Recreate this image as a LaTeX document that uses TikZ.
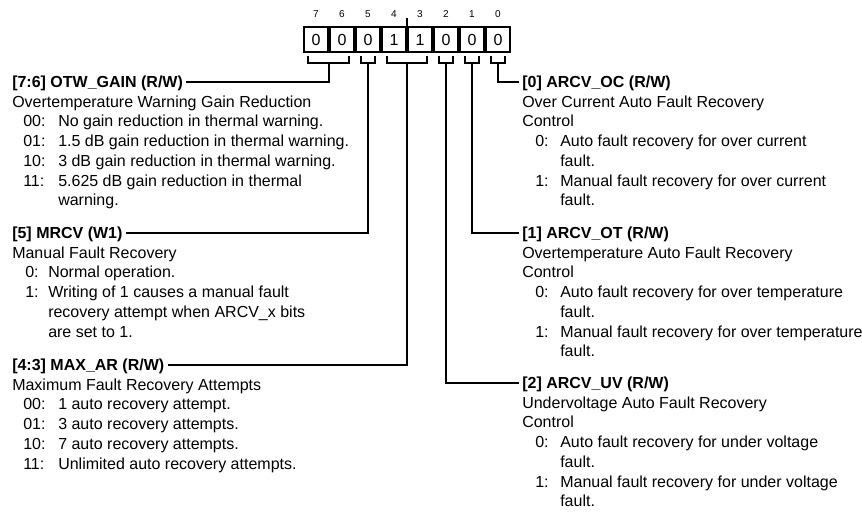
\documentclass[tikz,border=0pt]{standalone}
\usepackage{fontspec}
\setmainfont{Liberation Sans}
\newcommand{\TL}[4]{\node[txt] (#1) at (#2,#3) {#4};}
\newcommand{\HL}[4]{\node[head] (#1) at (#2,#3) {#4};}
\begin{document}
\begin{tikzpicture}[x=0.75pt,y=-0.75pt,
  txt/.style={inner sep=0pt, anchor=base west, font=\fontsize{12}{14}\selectfont},
  head/.style={txt, font=\fontsize{12}{14}\selectfont\bfseries, text height=8.25pt, text depth=0pt},
  cell/.style={draw, line width=1.1pt, minimum width=18.2pt, minimum height=18.75pt, inner sep=0pt, font=\fontsize{12}{14}\selectfont},
  bitnum/.style={inner sep=0pt, font=\fontsize{7.5}{9}\selectfont},
  conn/.style={line width=1.5pt},
  brk/.style={line width=1.5pt}]
\path[use as bounding box, fill=white] (0,0) rectangle (862,515);

% register cells
\foreach \b/\v [count=\i from 0] in {7/0,6/0,5/0,4/1,3/1,2/0,1/0,0/0} {
  \node[cell] (c\b) at (316+26*\i, 39.5) {\v};
  \node[bitnum] (n\b) at (316+26*\i, 14) {\b};
}
\draw[line width=0.8pt] (407,27) -- (407,18);

% brackets
\coordinate (br76) at (329,63);
\coordinate (br5) at (368,63);
\coordinate (br43) at (407,63);
\coordinate (br2) at (446,63);
\coordinate (br1) at (472,63);
\coordinate (br0) at (498,63);
\draw[brk] (308,56) -- (308,63) -- (349,63) -- (349,56);
\draw[brk] (361,56) -- (361,63) -- (375,63) -- (375,56);
\draw[brk] (387,56) -- (387,63) -- (427,63) -- (427,56);
\draw[brk] (439,56) -- (439,63) -- (453,63) -- (453,56);
\draw[brk] (465,56) -- (465,63) -- (479,63) -- (479,56);
\draw[brk] (491,56) -- (491,63) -- (505,63) -- (505,56);

% left column
\HL{h76}{12}{87.5}{[7:6] OTW\_GAIN (R/W)}
\TL{a1}{12}{107.2}{Overtemperature Warning Gain Reduction}
\TL{a2l}{23}{126.9}{00:}\TL{a2}{58}{126.9}{No gain reduction in thermal warning.}
\TL{a3l}{23}{146.6}{01:}\TL{a3}{58}{146.6}{1.5 dB gain reduction in thermal warning.}
\TL{a4l}{23}{166.3}{10:}\TL{a4}{58}{166.3}{3 dB gain reduction in thermal warning.}
\TL{a5l}{23}{186}{11:}\TL{a5}{58}{186}{5.625 dB gain reduction in thermal}
\TL{a6}{58}{205.7}{warning.}

\HL{h5}{12}{238.5}{[5] MRCV (W1)}
\TL{b1}{12}{258.2}{Manual Fault Recovery}
\TL{b2l}{25}{277.9}{0:}\TL{b2}{48}{277.9}{Normal operation.}
\TL{b3l}{25}{297.6}{1:}\TL{b3}{48}{297.6}{Writing of 1 causes a manual fault}
\TL{b4}{48}{317.3}{recovery attempt when ARCV\_x bits}
\TL{b5}{48}{337}{are set to 1.}

\HL{h43}{12}{370.5}{[4:3] MAX\_AR (R/W)}
\TL{d1}{12}{390.2}{Maximum Fault Recovery Attempts}
\TL{d2l}{23}{409.9}{00:}\TL{d2}{58}{409.9}{1 auto recovery attempt.}
\TL{d3l}{23}{429.6}{01:}\TL{d3}{58}{429.6}{3 auto recovery attempts.}
\TL{d4l}{23}{449.3}{10:}\TL{d4}{58}{449.3}{7 auto recovery attempts.}
\TL{d5l}{23}{469}{11:}\TL{d5}{58}{469}{Unlimited auto recovery attempts.}

% right column
\HL{h0}{522}{87.5}{[0] ARCV\_OC (R/W)}
\TL{e1}{522}{107.2}{Over Current Auto Fault Recovery}
\TL{e2}{522}{126.9}{Control}
\TL{e3l}{535}{146.6}{0:}\TL{e3}{560}{146.6}{Auto fault recovery for over current}
\TL{e4}{560}{166.3}{fault.}
\TL{e5l}{535}{186}{1:}\TL{e5}{560}{186}{Manual fault recovery for over current}
\TL{e6}{560}{205.7}{fault.}

\HL{h1}{522}{238.5}{[1] ARCV\_OT (R/W)}
\TL{f1}{522}{258.2}{Overtemperature Auto Fault Recovery}
\TL{f2}{522}{277.9}{Control}
\TL{f3l}{535}{297.6}{0:}\TL{f3}{560}{297.6}{Auto fault recovery for over temperature}
\TL{f4}{560}{317.3}{fault.}
\TL{f5l}{535}{337}{1:}\TL{f5}{560}{337}{Manual fault recovery for over temperature}
\TL{f6}{560}{356.7}{fault.}

\HL{h2}{522}{388.5}{[2] ARCV\_UV (R/W)}
\TL{g1}{522}{408.2}{Undervoltage Auto Fault Recovery}
\TL{g2}{522}{427.9}{Control}
\TL{g3l}{535}{447.6}{0:}\TL{g3}{560}{447.6}{Auto fault recovery for under voltage}
\TL{g4}{560}{467.3}{fault.}
\TL{g5l}{535}{487}{1:}\TL{g5}{560}{487}{Manual fault recovery for under voltage}
\TL{g6}{560}{506.7}{fault.}

% connectors
\draw[conn] ([xshift=2.25pt]h76.east) -| (br76);
\draw[conn] ([xshift=2.25pt]h5.east) -| (br5);
\draw[conn] ([xshift=2.25pt]h43.east) -| (br43);
\draw[conn] (br2) |- ([xshift=-2.25pt]h2.west);
\draw[conn] (br1) |- ([xshift=-2.25pt]h1.west);
\draw[conn] (br0) |- ([xshift=-2.25pt]h0.west);
\end{tikzpicture}
\end{document}
